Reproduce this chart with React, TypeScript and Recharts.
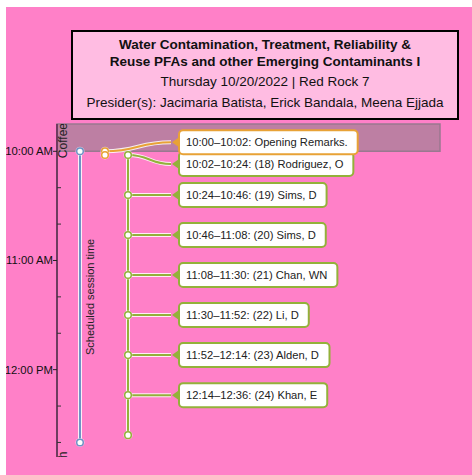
import { ComposedChart, XAxis, YAxis, Line, Scatter, ReferenceArea } from 'recharts';

// session times are minutes after midnight
const titleLines = [
  'Water Contamination, Treatment, Reliability &',
  'Reuse PFAs and other Emerging Contaminants I',
];
const subtitle = 'Thursday 10/20/2022 | Red Rock 7';
const presiders = 'Presider(s): Jacimaria Batista, Erick Bandala, Meena Ejjada';

const talkStarts = [602, 624, 646, 668, 690, 712, 734];
const talkEnd = 756;
const speakers = [
  '(18) Rodriguez, O',
  '(19) Sims, D',
  '(20) Sims, D',
  '(21) Chan, WN',
  '(22) Li, D',
  '(23) Alden, D',
  '(24) Khan, E',
];
// where each callout sits (first one pushed down to clear the opening remarks)
const talkLabelTimes = [607, 624, 646, 668, 690, 712, 734];

const openingStart = 600;
const openingEnd = 602;
const openingText = 'Opening Remarks.';
const openingLabelTime = 595;

const scheduleStart = 600;
const scheduleEnd = 760;
const scheduleText = 'Scheduled session time';

const breakNames = ['Coffee', 'Lunch'];
const breakStarts = [585, 765.5];
const coffeeEnd = 600;

const timeTicks = [600, 620, 640, 660, 680, 700, 720, 740, 760];

// x lanes (in x-axis units)
const LANE_SCHEDULE = 23;
const LANE_OPENING = 48;
const LANE_TALKS = 71;
const LANE_LABELS = 114;
const LANE_BREAKS = 10;

const PINK = '#ff80c8';
const BLUE = '#6f93c6';
const ORANGE = '#e8a236';
const GREEN = '#93b13a';
const FONT = '"Liberation Sans", Arial, sans-serif';

const pad = (n: number) => (n < 10 ? `0${n}` : `${n}`);
const clock = (m: number) => `${Math.floor(m / 60)}:${pad(m % 60)}`;
const hourLabel = (m: number) => {
  const h = Math.floor(m / 60);
  return `${h > 12 ? h - 12 : h}:00 ${h >= 12 ? 'PM' : 'AM'}`;
};

let ctx: CanvasRenderingContext2D | null = null;
function textWidth(s: string) {
  if (!ctx) ctx = document.createElement('canvas').getContext('2d');
  if (!ctx) return s.length * 5.5;
  ctx.font = `11.2px ${FONT}`;
  return ctx.measureText(s).width;
}

const talks = talkStarts.map((start, i) => {
  const end = i < talkStarts.length - 1 ? talkStarts[i + 1] : talkEnd;
  return {
    start,
    labelT: talkLabelTimes[i],
    text: `${clock(start)}–${clock(end)}: ${speakers[i]}`,
  };
});

const talkDots = [...talkStarts, talkEnd].map((t) => ({ x: LANE_TALKS, t }));
const openingDots = [openingStart, openingEnd].map((t) => ({ x: LANE_OPENING, t }));
const scheduleDots = [scheduleStart, scheduleEnd].map((t) => ({ x: LANE_SCHEDULE, t }));

const talkCallouts = talks.map((d) => ({ x: LANE_LABELS, t: d.labelT, text: d.text, color: GREEN }));
const openingCallout = [
  { x: LANE_LABELS, t: openingLabelTime, text: `${clock(openingStart)}–${clock(openingEnd)}: ${openingText}`, color: ORANGE },
];

const connectors = [
  ...talks.map((d) => ({ color: GREEN, data: [{ x: LANE_TALKS, t: d.start }, { x: LANE_LABELS, t: d.labelT }] })),
  { color: ORANGE, data: [{ x: LANE_OPENING, t: openingStart }, { x: LANE_LABELS, t: openingLabelTime }] },
];

const tracks = [
  { color: BLUE, data: scheduleDots },
  { color: ORANGE, data: openingDots },
  { color: GREEN, data: talkDots },
];

const breakMarks = breakNames.map((name, i) => ({ x: LANE_BREAKS, t: breakStarts[i], name }));

function TimeTick(props: any) {
  const { x, y, payload } = props;
  const onHour = payload.value % 60 === 0;
  return (
    <g>
      {onHour ? (
        <>
          <line x1={x - 4} x2={x} y1={y} y2={y} stroke="#222" />
          <text x={x - 4} y={y + 4} textAnchor="end" fontSize={11.3} fontFamily={FONT} fill="#111">
            {hourLabel(payload.value)}
          </text>
        </>
      ) : (
        <line x1={x} x2={x + 4} y1={y} y2={y} stroke="#333" />
      )}
    </g>
  );
}

const ring = (color: string) => (p: any) => (
  <g>
    <circle cx={p.cx} cy={p.cy} r={4.5} fill="#fff" fillOpacity={0.6} />
    <circle cx={p.cx} cy={p.cy} r={3.3} fill="#fff" stroke={color} strokeWidth={1.5} />
  </g>
);

function Callout(p: any) {
  const { cx, cy, payload } = p;
  const w = textWidth(payload.text) + 17;
  return (
    <g>
      <rect x={cx + 8} y={cy - 12} width={w} height={24} rx={4} fill="#fff" stroke={payload.color} strokeWidth={2} />
      <polygon points={`${cx + 1},${cy} ${cx + 8},${cy - 5} ${cx + 8},${cy + 5}`} fill={payload.color} />
      <text x={cx + 15} y={cy + 4} fontSize={11.2} fontFamily={FONT} fill="#222">
        {payload.text}
      </text>
    </g>
  );
}

function BreakLabel(p: any) {
  const { cx, cy, payload } = p;
  const y = cy - 1;
  return (
    <text x={cx} y={y} transform={`rotate(-90, ${cx}, ${y})`} textAnchor="end" fontSize={12} fontFamily={FONT} fill="#222">
      {payload.name}
    </text>
  );
}

function ScheduleLabel(p: any) {
  const { cx, cy } = p;
  const x = cx + 14;
  return (
    <text x={x} y={cy} transform={`rotate(-90, ${x}, ${cy})`} textAnchor="middle" fontSize={11} fontFamily={FONT} fill="#222">
      {scheduleText}
    </text>
  );
}

export default function App() {
  return (
    <div style={{ position: 'absolute', left: 6, top: 7, width: 466, height: 468, overflow: 'hidden', background: PINK }}>
      <ComposedChart width={466} height={490} margin={{ top: 117, right: 32, bottom: 40, left: 0 }}>
        <XAxis type="number" dataKey="x" domain={[0, 383]} hide allowDataOverflow />
        <YAxis
          type="number"
          dataKey="t"
          domain={[585, 768]}
          reversed
          allowDataOverflow
          ticks={timeTicks}
          interval={0}
          width={51}
          tickSize={0}
          tickMargin={0}
          tickLine={false}
          tick={<TimeTick />}
          axisLine={{ stroke: '#6e3c60', strokeWidth: 2 }}
        />
        <ReferenceArea y1={breakStarts[0]} y2={coffeeEnd} fill="#bd7fa3" fillOpacity={1} stroke="#9a7890" strokeWidth={1.5} />
        <Scatter data={breakMarks} shape={BreakLabel} isAnimationActive={false} />

        {tracks.map((tr, i) => (
          <Line key={`halo${i}`} data={tr.data} dataKey="t" type="linear" stroke="#fff" strokeOpacity={0.85} strokeWidth={4} dot={false} activeDot={false} isAnimationActive={false} />
        ))}
        {tracks.map((tr, i) => (
          <Line key={`track${i}`} data={tr.data} dataKey="t" type="linear" stroke={tr.color} strokeWidth={2} dot={false} activeDot={false} isAnimationActive={false} />
        ))}
        {connectors.map((c, i) => (
          <Line key={`chalo${i}`} data={c.data} dataKey="t" type="bumpX" stroke="#fff" strokeOpacity={0.85} strokeWidth={4} dot={false} activeDot={false} isAnimationActive={false} />
        ))}
        {connectors.map((c, i) => (
          <Line key={`conn${i}`} data={c.data} dataKey="t" type="bumpX" stroke={c.color} strokeWidth={2} dot={false} activeDot={false} isAnimationActive={false} />
        ))}

        <Scatter data={scheduleDots} shape={ring(BLUE)} isAnimationActive={false} />
        <Scatter data={openingDots} shape={ring(ORANGE)} isAnimationActive={false} />
        <Scatter data={talkDots} shape={ring(GREEN)} isAnimationActive={false} />
        <Scatter data={[{ x: LANE_SCHEDULE, t: (scheduleStart + scheduleEnd) / 2 }]} shape={ScheduleLabel} isAnimationActive={false} />

        <Scatter data={talkCallouts} shape={Callout} isAnimationActive={false} />
        <Scatter data={openingCallout} shape={Callout} isAnimationActive={false} />
      </ComposedChart>

      <svg width={466} height={468} style={{ position: 'absolute', left: 0, top: 0, pointerEvents: 'none' }}>
        <rect x={66} y={24} width={386} height={88} fill="#ffbce2" stroke="#000" strokeWidth={2} />
        <g fontFamily={FONT} fontSize={13.5} fill="#111" textAnchor="middle">
          <text x={259} y={41.5} fontWeight="bold">{titleLines[0]}</text>
          <text x={259} y={58.5} fontWeight="bold">{titleLines[1]}</text>
          <text x={259} y={78.5}>{subtitle}</text>
          <text x={259} y={100}>{presiders}</text>
        </g>
      </svg>
    </div>
  );
}
